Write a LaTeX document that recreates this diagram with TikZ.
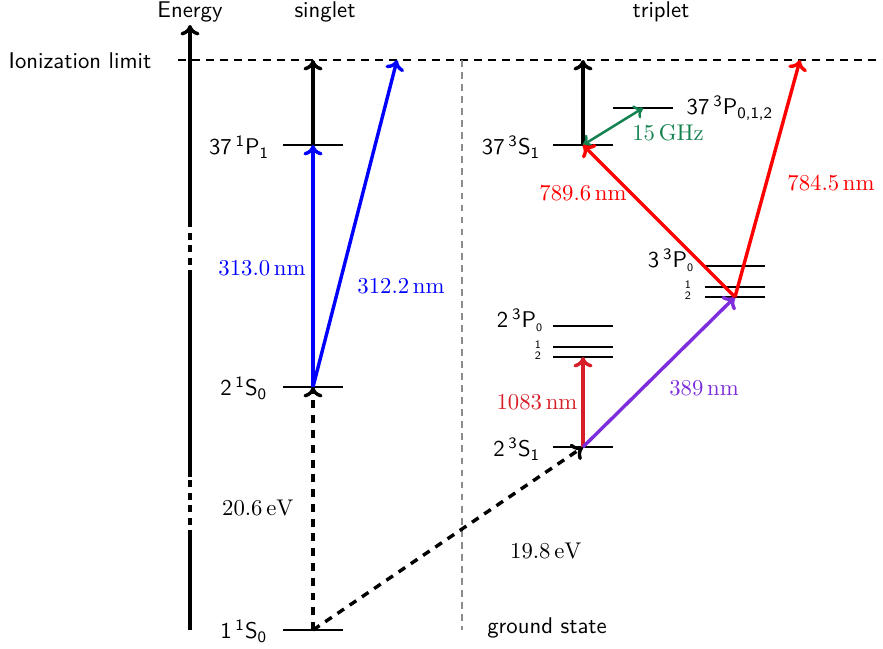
\documentclass[tikz,border=0pt]{standalone}
\usetikzlibrary{calc,arrows.meta}
\definecolor{myred}{RGB}{255,0,0}
\definecolor{crim}{RGB}{215,30,40}
\definecolor{purp}{RGB}{125,45,220}
\definecolor{grn}{RGB}{20,130,80}
\definecolor{myblue}{RGB}{0,0,255}
\tikzset{
  tip/.style={-{To[length=4.6pt,width=8.4pt]}},
  lvl/.style={line width=1pt},
  arr/.style={tip, line width=1.5pt},
  dsh/.style={tip, line width=1.5pt, dash pattern=on 3.5pt off 3pt},
  lab/.style={font=\sffamily, inner sep=1pt},
  num/.style={inner sep=1pt},
}
\begin{document}
\begin{tikzpicture}[x=0.44pt, y=-0.44pt]
\useasboundingbox (0,0) rectangle (883,648);
% coordinates
\coordinate (ax0) at (190,630);
\coordinate (axa) at (190,537);
\coordinate (axb) at (190,477);
\coordinate (axc) at (190,277);
\coordinate (axd) at (190,223);
\coordinate (axtop) at (190,25);
\coordinate (ionL) at (178,60);
\coordinate (ionR) at (883,60);
\coordinate (sepT) at (462,60);
\coordinate (sepB) at (462,630);
\coordinate (s37) at (313,145);
\coordinate (s2) at (313,387);
\coordinate (s1) at (313,630);
\coordinate (ion1) at (313,60);
\coordinate (ion2) at (397,60);
\coordinate (t37S) at (583,145);
\coordinate (ionT) at (583,60);
\coordinate (t37P) at (643,108);
\coordinate (t3P0) at (735,266);
\coordinate (t3P1) at (735,287);
\coordinate (t3P2) at (735,297);
\coordinate (ion3) at (800,60);
\coordinate (t2P0) at (583,326);
\coordinate (t2P1) at (583,347);
\coordinate (t2P2) at (583,357);
\coordinate (t2S) at (583,447);
% energy axis
\draw[line width=1.5pt] (ax0) -- (axa);
\draw[line width=1.5pt, dash pattern=on 3pt off 2.5pt] (axa) -- (axb);
\draw[line width=1.5pt] (axb) -- (axc);
\draw[line width=1.5pt, dash pattern=on 3pt off 2.5pt] (axc) -- (axd);
\draw[tip, line width=1.5pt] (axd) -- (axtop);
\node[lab] (energy) at (190,12) {Energy};
\node[lab] (singlet) at (325,12) {singlet};
\node[lab] (triplet) at (661,12) {triplet};
% ionization limit
\draw[line width=1pt, dash pattern=on 3.5pt off 2.7pt] (ionL) -- (ionR);
\node[lab, anchor=east] (ionlab) at (154,61) {Ionization limit};
% separator
\draw[gray!90, line width=0.8pt, dash pattern=on 3pt off 2.3pt] (sepT) -- (sepB);
% levels
\foreach \c in {s37,s2,s1,t37S,t2P0,t2P1,t2P2,t2S}
  \draw[lvl] ($(\c)+(-30,0)$) -- ($(\c)+(30,0)$);
\foreach \c in {t37P,t3P0,t3P1,t3P2}
  \draw[lvl] ($(\c)+(-30,0)$) -- ($(\c)+(30,0)$);
% level labels
\node[lab, anchor=east] (l37P1) at (272,147) {37\,\textsuperscript{1}P\textsubscript{1}};
\node[lab, anchor=east] (l2S0) at (270,388) {2\,\textsuperscript{1}S\textsubscript{0}};
\node[lab, anchor=east] (l1S0) at (270,631) {1\,\textsuperscript{1}S\textsubscript{0}};
\node[lab, anchor=east] (l37S1) at (543,147) {37\,\textsuperscript{3}S\textsubscript{1}};
\node[lab, anchor=east] (l2S1) at (543,449) {2\,\textsuperscript{3}S\textsubscript{1}};
\node[lab, anchor=west] (l37P) at (684,108) {37\,\textsuperscript{3}P\textsubscript{0,1,2}};
\node[lab, anchor=east] (l3P) at (697,260) {3\,\textsuperscript{3}P\textsubscript{\tiny 0}};
\node[lab, font=\sffamily\tiny, inner sep=0pt] (l3P1) at (688,285) {1};
\node[lab, font=\sffamily\tiny, inner sep=0pt] (l3P2) at (688,296) {2};
\node[lab, anchor=east] (l2P) at (546,320) {2\,\textsuperscript{3}P\textsubscript{\tiny 0}};
\node[lab, font=\sffamily\tiny, inner sep=0pt] (l2P1) at (538,345) {1};
\node[lab, font=\sffamily\tiny, inner sep=0pt] (l2P2) at (538,356) {2};
\node[lab] (ground) at (547,628) {ground state};
% singlet transitions
\draw[arr] (s37) -- (ion1);
\draw[arr, myblue] (s2) -- (s37);
\draw[arr, myblue] (s2) -- (ion2);
\draw[dsh] (s1) -- (s2);
\draw[dsh] (s1) -- (t2S);
\node[num, myblue] (n3130) at (262,268) {$313.0\,\mathrm{nm}$};
\node[num, myblue] (n3122) at (401,286) {$312.2\,\mathrm{nm}$};
\node[num] (e206) at (258,508) {$20.6\,\mathrm{eV}$};
\node[num] (e198) at (546,551) {$19.8\,\mathrm{eV}$};
% triplet transitions
\draw[arr] (t37S) -- (ionT);
\draw[{To[length=3.8pt,width=6.6pt]}-{To[length=3.8pt,width=6.6pt]}, line width=1.1pt, grn] (t37S) -- (t37P);
\node[num, grn] (ghz) at (668,133) {$15\,\mathrm{GHz}$};
\draw[arr, crim] (t2S) -- (t2P2);
\node[num, crim] (n1083) at (537,402) {$1083\,\mathrm{nm}$};
\draw[arr, purp] (t2S) -- (t3P2);
\node[num, purp] (n389) at (704,388) {$389\,\mathrm{nm}$};
\draw[arr, myred] (t3P2) -- (t37S);
\node[num, myred] (n7896) at (583,193) {$789.6\,\mathrm{nm}$};
\draw[arr, myred] (t3P2) -- (ion3);
\node[num, myred] (n7845) at (831,183) {$784.5\,\mathrm{nm}$};
\end{tikzpicture}
\end{document}
